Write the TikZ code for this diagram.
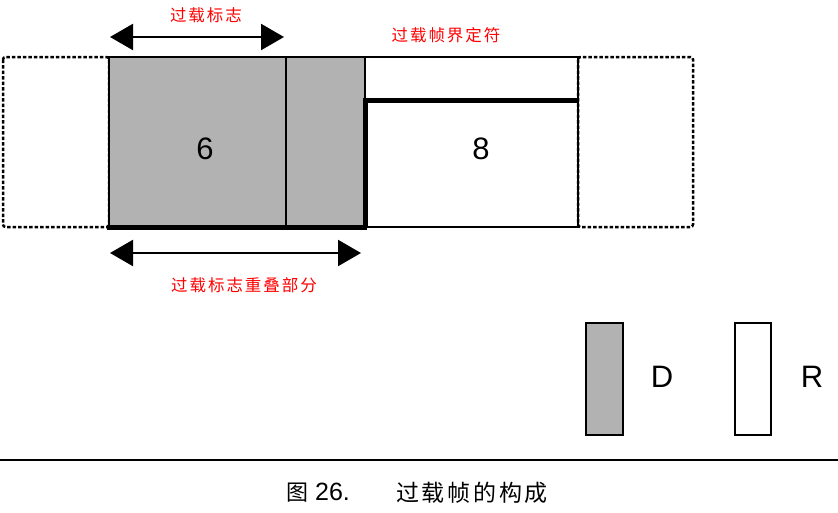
\documentclass[tikz,border=0pt]{standalone}
\usepackage{fontspec}
\setmainfont{Liberation Sans}
\newfontfamily\cjk{Noto Sans CJK SC}
\newfontfamily\cjksp[LetterSpace=12]{Noto Sans CJK SC}
\usetikzlibrary{arrows.meta}
\definecolor{boxgray}{RGB}{178,178,178}
\begin{document}
\begin{tikzpicture}[x=1pt,y=-1pt,
  thinln/.style={line width=1.8pt},
  heavy/.style={line width=5pt},
  dashbox/.style={draw, line width=2.5pt, dash pattern=on 3.5pt off 2pt, rounded corners=2.5pt},
  dimarrow/.style={line width=2.2pt, {Triangle[length=23pt,width=26pt]}-{Triangle[length=23pt,width=26pt]}},
  redlabel/.style={text=red, font=\cjksp\fontsize{16.5}{16.5}\selectfont, inner sep=0pt},
  numlabel/.style={font=\fontsize{31}{31}\selectfont, inner sep=0pt},
  caption/.style={font=\fontsize{25}{25}\selectfont, inner sep=0pt, anchor=west}]
\useasboundingbox (0,0) rectangle (838,512);

% dashed neighbour boxes
\draw[dashbox] (3,57) rectangle (109,227);
\draw[dashbox] (578,57) rectangle (693,227);

% overload flag (gray)
\fill[boxgray] (109,57) rectangle (365,227);
\draw[thinln] (109,57) rectangle (365,227);
\draw[thinln] (286,57) -- (286,227);

% delimiter (white)
\draw[thinln] (365,57) rectangle (578,227);
\draw[line width=2.8pt] (578,57) -- (578,227);

% heavy outline
\draw[heavy] (107,227) -- (367,227);
\draw[heavy, line join=miter] (365,227) -- (365,100) -- (578,100);

\node[numlabel] (six) at (205,149) {6};
\node[numlabel] (eight) at (481,149) {8};

% dimension arrows
\coordinate (ta) at (110,37);
\coordinate (tb) at (284,37);
\draw[dimarrow] (ta) -- (tb);
\node[redlabel] (flag) at (206,15.5) {过载标志};
\node[redlabel] (delim) at (446,35) {过载帧界定符};

\coordinate (ba) at (110,253);
\coordinate (bb) at (361,253);
\draw[dimarrow] (ba) -- (bb);
\node[redlabel] (overlap) at (244,285) {过载标志重叠部分};

% legend
\draw[thinln, fill=boxgray] (586,323) rectangle (623,435);
\node[numlabel] (D) at (662,377) {D};
\draw[thinln, fill=white] (735,323) rectangle (771,435);
\node[numlabel] (R) at (812,377) {R};

% caption rule
\draw[line width=2pt] (0,460) -- (838,460);
\node[caption] (fig) at (286,493) {{\cjk\fontsize{22}{22}\selectfont 图} 26.};
\node[caption, font=\cjksp\fontsize{23}{23}\selectfont] (title) at (396,493) {过载帧的构成};
\end{tikzpicture}
\end{document}
